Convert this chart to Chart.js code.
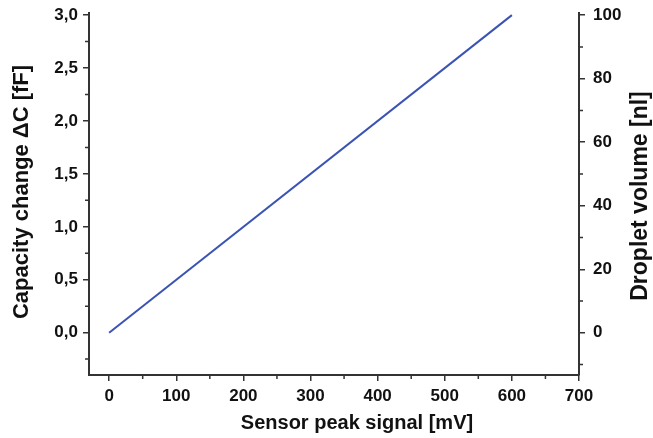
<!DOCTYPE html>
<html>
<head>
<meta charset="utf-8">
<script src="https://cdn.jsdelivr.net/npm/chart.js@4.4.1/dist/chart.umd.min.js"></script>
<style>
  html, body { margin: 0; padding: 0; background: #fff; }
  #wrap { width: 653px; height: 438px; }
</style>
</head>
<body>
<div id="wrap"><canvas id="chart" width="653" height="438"></canvas></div>
<script>
// 데이터
const signalMv = [0, 600];           // Sensor peak signal [mV]
const capacityFf = [0.0, 3.0];       // Capacity change ΔC [fF]

const xTicks = [0, 100, 200, 300, 400, 500, 600, 700];
const xMinorTicks = [50, 150, 250, 350, 450, 550, 650];
const yTicks = [0.0, 0.5, 1.0, 1.5, 2.0, 2.5, 3.0];
const yMinorTicks = [-0.25, 0.25, 0.75, 1.25, 1.75, 2.25, 2.75];
const y2Ticks = [0, 20, 40, 60, 80, 100];
const y2MinorTicks = [-10, 10, 30, 50, 70, 90];

const AXIS_COLOR = '#333333';
const LINE_COLOR = '#3b54b3';
const FONT = '"Liberation Sans", Arial, Helvetica, sans-serif';

// 보조 눈금 + 축 제목 그리기
const decorPlugin = {
    id: 'decor',
    afterDraw(chart) {
        const ctx = chart.ctx;
        const area = chart.chartArea;
        const sx = chart.scales.x, sy = chart.scales.y, sy2 = chart.scales.y2;
        ctx.save();
        ctx.strokeStyle = AXIS_COLOR;
        ctx.lineWidth = 1.5;
        ctx.beginPath();
        xMinorTicks.forEach(v => {
            const px = sx.getPixelForValue(v);
            ctx.moveTo(px, area.bottom);
            ctx.lineTo(px, area.bottom + 4);
        });
        yMinorTicks.forEach(v => {
            const py = sy.getPixelForValue(v);
            ctx.moveTo(area.left, py);
            ctx.lineTo(area.left - 4, py);
        });
        y2MinorTicks.forEach(v => {
            const py = sy2.getPixelForValue(v);
            ctx.moveTo(area.right, py);
            ctx.lineTo(area.right + 4, py);
        });
        ctx.stroke();

        // 축 제목
        ctx.fillStyle = '#111';
        ctx.textAlign = 'center';
        ctx.textBaseline = 'middle';
        ctx.font = 'bold 20px ' + FONT;
        ctx.fillText('Sensor peak signal [mV]', (area.left + area.right) / 2 + 23, 423);

        ctx.font = 'bold 22px ' + FONT;
        ctx.save();
        ctx.translate(22, 192);
        ctx.rotate(-Math.PI / 2);
        ctx.fillText('Capacity change \u0394C [fF]', 0, 0);
        ctx.restore();

        ctx.font = 'bold 23px ' + FONT;
        ctx.save();
        ctx.translate(641, 196);
        ctx.rotate(-Math.PI / 2);
        ctx.fillText('Droplet volume [nl]', 0, 0);
        ctx.restore();

        ctx.restore();
    }
};

function fixedTicks(values) {
    return scale => { scale.ticks = values.map(v => ({ value: v })); };
}

// 세로축 폭 고정 + 라벨 여백 제거
function fixWidth(w) {
    return scale => {
        scale.width = w;
        scale.paddingTop = 0;
        scale.paddingBottom = 0;
    };
}

const tickFont = { family: FONT, size: 17, weight: 'bold' };

const config = {
    type: 'line',
    data: {
        datasets: [{
            data: signalMv.map((x, i) => ({ x: x, y: capacityFf[i] })),
            borderColor: LINE_COLOR,
            borderWidth: 2,
            pointRadius: 0,
            tension: 0,
            fill: false,
            yAxisID: 'y'
        }]
    },
    options: {
        responsive: false,
        animation: false,
        devicePixelRatio: 1,
        layout: { padding: { top: 13, left: 0, right: 0, bottom: 0 } },
        plugins: {
            legend: { display: false },
            tooltip: { enabled: false }
        },
        scales: {
            x: {
                type: 'linear',
                position: 'bottom',
                min: -30,
                max: 700,
                afterBuildTicks: fixedTicks(xTicks),
                afterFit: scale => { scale.height = 63; scale.paddingLeft = 0; scale.paddingRight = 0; },
                border: { display: true, color: AXIS_COLOR, width: 2 },
                grid: { drawOnChartArea: false, drawTicks: true, tickLength: 6, color: AXIS_COLOR, lineWidth: 1.5 },
                ticks: { color: '#111', font: tickFont, padding: 5, maxRotation: 0, autoSkip: false }
            },
            y: {
                type: 'linear',
                position: 'left',
                min: -0.4,
                max: 3.02,
                afterBuildTicks: fixedTicks(yTicks),
                afterFit: fixWidth(89),
                border: { display: true, color: AXIS_COLOR, width: 2 },
                grid: { drawOnChartArea: false, drawTicks: true, tickLength: 6, color: AXIS_COLOR, lineWidth: 1.5 },
                ticks: {
                    color: '#111', font: tickFont, padding: 5, autoSkip: false,
                    callback: v => v.toFixed(1).replace('.', ',')
                }
            },
            y2: {
                type: 'linear',
                position: 'right',
                min: -13.3,
                max: 100.7,
                afterBuildTicks: fixedTicks(y2Ticks),
                afterFit: fixWidth(74),
                border: { display: true, color: AXIS_COLOR, width: 2 },
                grid: { drawOnChartArea: false, drawTicks: true, tickLength: 6, color: AXIS_COLOR, lineWidth: 1.5 },
                ticks: { color: '#111', font: tickFont, padding: 8, autoSkip: false }
            }
        }
    },
    plugins: [decorPlugin]
};

const chart = new Chart(document.getElementById('chart'), config);
</script>
</body>
</html>
